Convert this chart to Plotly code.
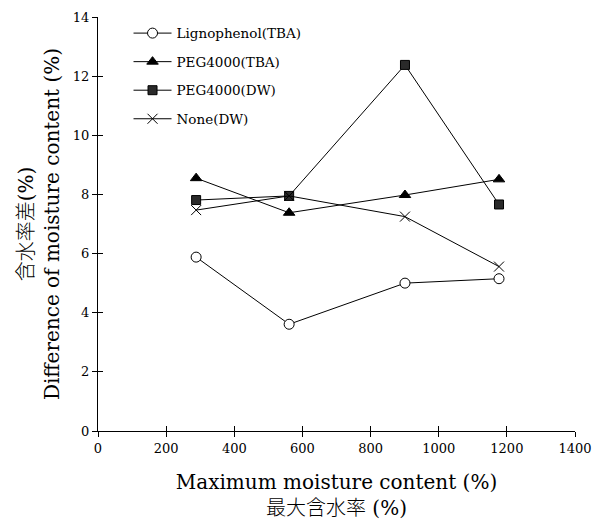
import plotly.graph_objects as go

# Maximum moisture content (%) for each specimen group
max_moisture = [288, 561, 901, 1177]

# Difference of moisture content (%) per treatment
lignophenol_tba = [5.88, 3.61, 5.00, 5.15]
peg4000_tba = [8.55, 7.38, 7.98, 8.51]
peg4000_dw = [7.81, 7.95, 12.38, 7.66]
none_dw = [7.47, 7.95, 7.25, 5.56]

series_names = ["Lignophenol(TBA)", "PEG4000(TBA)", "PEG4000(DW)", "None(DW)"]

x_ticks = [0, 200, 400, 600, 800, 1000, 1200, 1400]
y_ticks = [0, 2, 4, 6, 8, 10, 12, 14]

SERIF = "DejaVu Serif"
CJK = "Noto Sans CJK JP"

fig = go.Figure()

styles = [
    dict(symbol="circle", color="white", size=10),
    dict(symbol="triangle-up", color="black", size=10),
    dict(symbol="square", color="#2a2a2a", size=9),
    dict(symbol="x-thin", color="black", size=10),
]

for i, (name, ys, st) in enumerate(zip(series_names,
                                        [lignophenol_tba, peg4000_tba, peg4000_dw, none_dw],
                                        styles)):
    fig.add_trace(go.Scatter(
        x=max_moisture, y=ys, name=name, mode="lines+markers",
        legendgroup=f"g{i}",
        line=dict(color="black", width=1),
        marker=dict(symbol=st["symbol"], size=st["size"], color=st["color"],
                    line=dict(color="black", width=1)),
    ))

# invisible trace that carries the inward tick marks
fig.add_trace(go.Scatter(x=[None], y=[None], xaxis="x2", yaxis="y2",
                         showlegend=False, hoverinfo="skip"))

jp = f"font-family:{CJK};font-weight:300"

fig.update_layout(
    width=595, height=521,
    margin=dict(l=98, r=20, t=17, b=90, autoexpand=False),
    paper_bgcolor="white", plot_bgcolor="white",
    font=dict(family=SERIF, color="black", size=13),
    showlegend=True,
    legend=dict(x=0.064, y=0.998, xanchor="left", yanchor="top",
                bgcolor="rgba(0,0,0,0)", font=dict(family=SERIF, size=13.5),
                tracegroupgap=8, itemwidth=38),
    xaxis=dict(range=[0, 1400], tickvals=x_ticks, ticks="outside", ticklen=5,
               tickcolor="black", showline=True, linecolor="black", linewidth=1,
               showgrid=False, zeroline=False, tickfont=dict(family=SERIF, size=13),
               automargin=False,
               title=dict(text=f"Maximum moisture content (%)<br><span style='{jp}'>最大含水率</span> (%)",
                          font=dict(family=SERIF, size=20), standoff=25)),
    yaxis=dict(range=[0, 14], tickvals=y_ticks, ticks="outside", ticklen=5,
               tickcolor="black", showline=True, linecolor="black", linewidth=1,
               showgrid=False, zeroline=False, tickfont=dict(family=SERIF, size=13),
               automargin=False,
               title=dict(text=f"<span style='{jp}'>含水率差</span>(%)<br>Difference of moisture content (%)",
                          font=dict(family=SERIF, size=20), standoff=7)),
    xaxis2=dict(range=[0, 1400], tickvals=x_ticks, ticks="inside", ticklen=5,
                tickcolor="black", showticklabels=False, showline=False,
                showgrid=False, zeroline=False, overlaying="x", anchor="y2"),
    yaxis2=dict(range=[0, 14], tickvals=y_ticks, ticks="inside", ticklen=5,
                tickcolor="black", showticklabels=False, showline=False,
                showgrid=False, zeroline=False, overlaying="y", anchor="x2"),
)

fig.write_html("out.html")
